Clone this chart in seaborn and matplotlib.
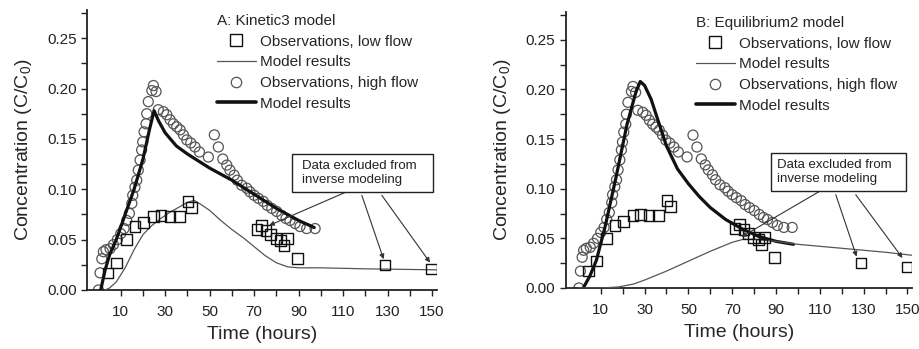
import numpy as np
import pandas as pd
import matplotlib
matplotlib.use("Agg")
import matplotlib.pyplot as plt
from matplotlib.lines import Line2D
from matplotlib.patches import Rectangle
import seaborn as sns

# ---- observations (hours, C/C0) ----
low_t = [4.3, 8.1, 12.7, 16.4, 20.3, 24.7, 28.1, 32.1, 36.3, 40.2, 41.9,
         71.2, 73.4, 75.3, 77.4, 79.8, 81.9, 83.4, 84.9, 89.4, 128.8, 149.8]
low_c = [0.017, 0.027, 0.050, 0.063, 0.067, 0.073, 0.074, 0.073, 0.073, 0.088, 0.082,
         0.060, 0.064, 0.059, 0.055, 0.051, 0.049, 0.044, 0.051, 0.031, 0.025, 0.021]

high_t = [0.0, 0.7, 1.5, 2.2, 3.4, 5.2, 6.7, 8.5, 10.0, 11.5, 12.7, 13.9, 15.0, 15.4,
          16.4, 17.2, 17.9, 18.7, 19.4, 19.9, 20.5, 21.4, 21.7, 22.4, 24.0, 24.7, 25.9,
          26.9, 29.2, 30.7, 32.2, 33.7, 35.2, 36.7, 38.2, 39.7, 41.5, 43.4, 45.4, 49.4,
          52.1, 53.9, 55.9, 57.7, 59.1, 61.0, 62.4, 64.4, 66.7, 68.1, 70.0, 71.9, 74.1,
          75.9, 77.9, 80.1, 82.4, 84.3, 86.1, 88.4, 90.6, 93.6, 97.4]
high_c = [0.000, 0.017, 0.031, 0.038, 0.040, 0.041, 0.045, 0.050, 0.056, 0.061, 0.069,
          0.076, 0.086, 0.094, 0.102, 0.109, 0.119, 0.129, 0.139, 0.147, 0.157, 0.165,
          0.175, 0.187, 0.198, 0.203, 0.197, 0.179, 0.177, 0.174, 0.169, 0.165, 0.162,
          0.159, 0.154, 0.149, 0.146, 0.142, 0.137, 0.132, 0.154, 0.142, 0.130, 0.124,
          0.119, 0.114, 0.109, 0.104, 0.101, 0.0975, 0.094, 0.091, 0.088, 0.084, 0.081,
          0.078, 0.074, 0.071, 0.069, 0.066, 0.063, 0.061, 0.061]

# ---- Kinetic3 model curves ----
k3_low_t = [3, 5, 8, 12, 16, 20, 24, 28, 32, 36, 40, 43, 46, 50, 55, 60, 65, 70, 75,
            80, 85, 90, 100, 120, 152]
k3_low_c = [0.000, 0.002, 0.008, 0.022, 0.040, 0.055, 0.064, 0.071, 0.077, 0.082, 0.087,
            0.089, 0.085, 0.079, 0.069, 0.060, 0.052, 0.043, 0.034, 0.027, 0.023, 0.022,
            0.022, 0.021, 0.020]
k3_high_t = [1, 3, 5, 8, 12, 16, 20, 23, 25, 27, 30, 35, 40, 50, 60, 70, 80, 90, 97]
k3_high_c = [0.000, 0.020, 0.035, 0.050, 0.075, 0.100, 0.130, 0.160, 0.178, 0.168, 0.156,
             0.143, 0.135, 0.121, 0.109, 0.095, 0.081, 0.069, 0.062]

# ---- Equilibrium2 model curves ----
eq_low_t = [0, 10, 18, 25, 30, 40, 50, 60, 70, 75, 80, 90, 100, 110, 120, 130, 140, 152]
eq_low_c = [0.000, 0.000, 0.001, 0.004, 0.008, 0.017, 0.027, 0.037, 0.046, 0.049, 0.049,
            0.047, 0.044, 0.042, 0.040, 0.038, 0.036, 0.033]
eq_high_t = [2, 5, 8, 12, 17, 22, 26, 28, 30, 33, 37, 40, 45, 50, 55, 60, 67, 75, 82, 90, 98]
eq_high_c = [0.000, 0.012, 0.028, 0.062, 0.112, 0.165, 0.197, 0.208, 0.204, 0.190, 0.163,
             0.143, 0.120, 0.105, 0.092, 0.081, 0.069, 0.059, 0.052, 0.047, 0.044]

panel_titles = ["A: Kinetic3 model", "B: Equilibrium2 model"]
legend_labels = ["Observations, low flow", "Model results",
                 "Observations, high flow", "Model results"]
note_text = "Data excluded from\ninverse modeling"
xticks = [10, 20, 30, 40, 50, 60, 70, 80, 90, 100, 110, 120, 130, 140, 150]
xticklabels = ["10", "", "30", "", "50", "", "70", "", "90", "", "110", "", "130", "", "150"]
yticks = [0.0, 0.05, 0.10, 0.15, 0.20, 0.25]

sns.set_theme(style="ticks")
plt.rcParams["font.family"] = ["Liberation Sans", "DejaVu Sans"]
plt.rcParams["mathtext.fontset"] = "custom"
plt.rcParams["mathtext.rm"] = "Liberation Sans"
plt.rcParams["mathtext.default"] = "regular"

fig = plt.figure(figsize=(9.19, 3.49), dpi=100)
axA = fig.add_axes([0.0947, 0.1691, 0.3808, 0.8023])
axB = fig.add_axes([0.6156, 0.1748, 0.3768, 0.7908])

obs_low = pd.DataFrame({"t": low_t, "c": low_c})
obs_high = pd.DataFrame({"t": high_t, "c": high_c})

# (axes, low-flow model, high-flow model, x-range, note box (x0, y0, x1, y1), text x, arrows)
panels = [
    (axA, (k3_low_t, k3_low_c), (k3_high_t, k3_high_c), (-5.15, 152.2),
     (87.0, 0.097, 150.4, 0.135), 91.5,
     [((111.6, 0.0975), (75.6, 0.063)),
      ((118.4, 0.094), (128.6, 0.028)),
      ((127.4, 0.094), (149.8, 0.025))]),
    (axB, (eq_low_t, eq_low_c), (eq_high_t, eq_high_c), (-6.0, 152.1),
     (87.6, 0.0975, 149.25, 0.136), 90.6,
     [((110.4, 0.098), (73.1, 0.050)),
      ((117.3, 0.094), (127.2, 0.029)),
      ((126.4, 0.094), (148.5, 0.028))]),
]

for i, (ax, mlow, mhigh, xlim, box, text_x, arrows) in enumerate(panels):
    sns.scatterplot(data=obs_high, x="t", y="c", ax=ax, marker="o", s=52,
                    facecolor="none", edgecolor="#555555", linewidth=0.9, zorder=2)
    sns.lineplot(x=mhigh[0], y=mhigh[1], ax=ax, color="#111111", linewidth=2.3,
                 sort=False, estimator=None, zorder=3)
    sns.lineplot(x=mlow[0], y=mlow[1], ax=ax, color="#555555", linewidth=0.9,
                 sort=False, estimator=None, zorder=3)
    sns.scatterplot(data=obs_low, x="t", y="c", ax=ax, marker="s", s=58,
                    facecolor="none", edgecolor="#111111", linewidth=1.0, zorder=4)

    ax.set_xlim(*xlim)
    ax.set_ylim(0, 0.278)
    ax.set_xticks(xticks)
    ax.set_xticklabels(xticklabels)
    ax.set_yticks(yticks)
    ax.set_yticks([0.025, 0.075, 0.125, 0.175, 0.225, 0.275], minor=True)
    ax.yaxis.set_major_formatter(matplotlib.ticker.FormatStrFormatter("%.2f"))
    ax.tick_params(axis="both", which="both", direction="out", length=4.5, width=1.0,
                   color="#222222", labelsize=11, labelcolor="#222222", pad=3)
    ax.tick_params(axis="x", pad=6)
    for side in ("left", "bottom"):
        ax.spines[side].set_linewidth(1.3)
        ax.spines[side].set_color("#222222")
    sns.despine(ax=ax)
    ax.set_xlabel("Time (hours)", fontsize=14, labelpad=5)
    ax.set_ylabel("Concentration (C/C$_0$)", fontsize=14, labelpad=9)

    handles = [
        Line2D([], [], ls="none", marker="s", ms=8, mfc="none", mec="#111111", mew=1.0),
        Line2D([], [], color="#555555", lw=0.9),
        Line2D([], [], ls="none", marker="o", ms=7.5, mfc="none", mec="#555555", mew=0.9),
        Line2D([], [], color="#111111", lw=2.6),
    ]
    ax.legend(handles, legend_labels, title=panel_titles[i], loc="upper left",
              bbox_to_anchor=(0.371 if i == 0 else 0.375, 0.986), frameon=False,
              fontsize=11, title_fontsize=11, handlelength=2.55,
              handletextpad=0.3, labelspacing=0.44, borderpad=0,
              borderaxespad=0, alignment="left")

    x0, y0, x1, y1 = box
    ax.add_patch(Rectangle((x0, y0), x1 - x0, y1 - y0, fc="white", ec="#222222",
                           lw=1.0, zorder=6))
    ax.text(text_x, (y0 + y1) / 2, note_text, ha="left", va="center", fontsize=9.5,
            color="#222222", linespacing=1.15, zorder=7)
    for start, end in arrows:
        ax.annotate("", xy=end, xytext=start,
                    arrowprops=dict(arrowstyle="-|>", color="#333333", lw=0.8,
                                    mutation_scale=7, shrinkA=0, shrinkB=2),
                    zorder=5)

fig.savefig("out.png", dpi=100)
